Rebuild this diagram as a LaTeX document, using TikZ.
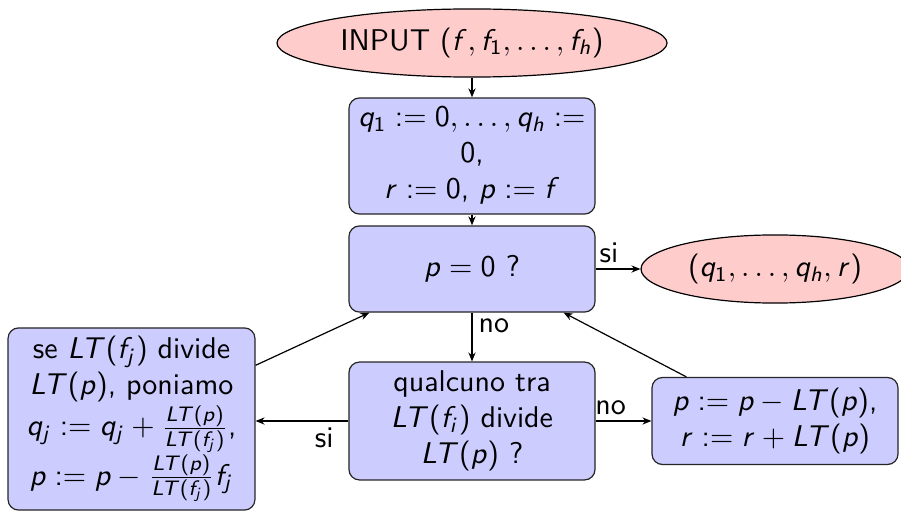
\documentclass[tikz,border=0pt]{standalone}
\usetikzlibrary{shapes.geometric,arrows.meta,calc}
\renewcommand{\familydefault}{\sfdefault}
\DeclareSymbolFont{sfletters}{OT1}{cmss}{m}{sl}
\SetSymbolFont{operators}{normal}{OT1}{cmss}{m}{n}
\DeclareMathSymbol{f}{\mathalpha}{sfletters}{`f}
\DeclareMathSymbol{h}{\mathalpha}{sfletters}{`h}
\DeclareMathSymbol{i}{\mathalpha}{sfletters}{`i}
\DeclareMathSymbol{j}{\mathalpha}{sfletters}{`j}
\DeclareMathSymbol{p}{\mathalpha}{sfletters}{`p}
\DeclareMathSymbol{q}{\mathalpha}{sfletters}{`q}
\DeclareMathSymbol{r}{\mathalpha}{sfletters}{`r}
\DeclareMathSymbol{L}{\mathalpha}{sfletters}{`L}
\DeclareMathSymbol{T}{\mathalpha}{sfletters}{`T}
\begin{document}
\begin{tikzpicture}[x=0.3333pt,y=-0.3333pt,
  box/.style={draw=black!85, fill=blue!20, rounded corners=3.5pt, minimum width=82pt, align=center, inner sep=2pt},
  term/.style={ellipse, draw=black, fill=red!20, inner sep=0pt},
  arr/.style={-{Stealth[length=3pt,width=2.4pt]}, line width=0.4pt},
  lbl/.style={inner sep=2pt}]
\useasboundingbox (0,0) rectangle (901,512);
\node[term, minimum width=130pt, minimum height=22.7pt] (in) at (472,43) {INPUT $(f, f_1, \ldots, f_h)$};
\node[box, minimum height=38.7pt] (b1) at (472,156) {$q_1 := 0, \ldots, q_h :=$\\ $0$,\\ $r := 0$, $p := f$};
\node[box, minimum height=28.7pt] (b2) at (472,269) {$p = 0$ ?};
\node[term, minimum width=89.3pt, minimum height=22.7pt] (out) at (775,269) {$(q_1, \ldots, q_h, r)$};
\node[box, minimum height=39.3pt] (b3) at (472,421) {qualcuno tra\\ $LT(f_i)$ divide\\ $LT(p)$ ?};
\node[box, minimum height=29pt] (rb) at (775,421) {$p := p - LT(p)$,\\ $r := r + LT(p)$};
\node[box, minimum width=82.3pt, minimum height=60.7pt] (lb) at (131.5,419) {se $LT(f_j)$ divide\\ $LT(p)$, poniamo\\ $q_j := q_j + \frac{LT(p)}{LT(f_j)}$,\\ $p := p - \frac{LT(p)}{LT(f_j)} f_j$};
\draw[arr] (in) -- (b1);
\draw[arr] (b1) -- (b2);
\draw[arr] (b2) -- node[lbl, above, pos=0.3] {si} (out);
\draw[arr] (b2) -- node[lbl, right, pos=0.26] {no} (b3);
\draw[arr] (b3.west) -- node[lbl, below, pos=0.26] {si} (b3.west -| lb.east);
\draw[arr] (b3.east) -- node[lbl, above, pos=0.27] {no} (b3.east -| rb.west);
\draw[arr] ($(rb.north west)+(35,0)$) -- ($(b2.south east)+(-32,0)$);
\draw[arr] ($(lb.north east)+(0,38)$) -- ($(b2.south west)+(21,0)$);
\end{tikzpicture}
\end{document}
